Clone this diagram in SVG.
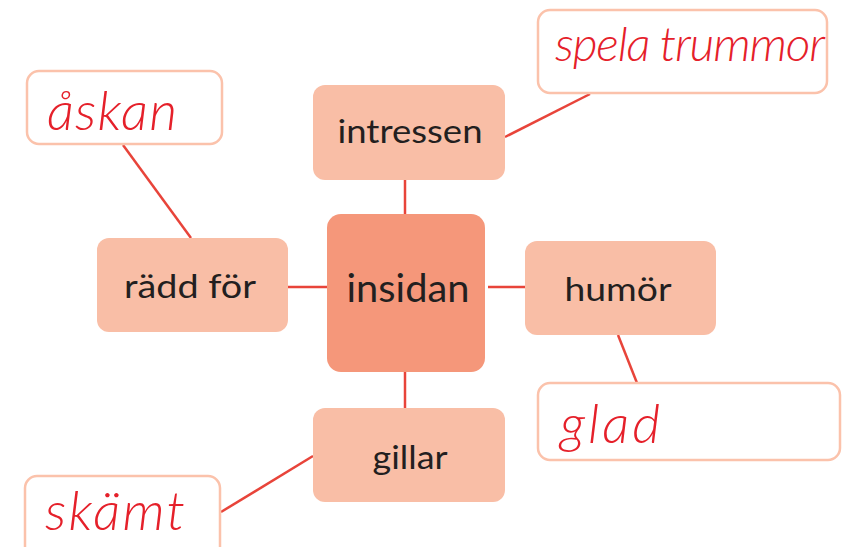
<svg xmlns="http://www.w3.org/2000/svg" width="850" height="547" viewBox="0 0 850 547">
<style>
.sub{fill:#f9bea6}
.main{fill:#f5977a}
.ans{fill:#fff;stroke:#fbc2ab;stroke-width:2.5}
.lbl{font-family:Lato,"Open Sans",sans-serif;fill:#231f20;text-anchor:middle}
.hand{font-family:Lato,"Open Sans",sans-serif;font-style:italic;font-weight:300;fill:#e5202a}
.ln{stroke:#e8443a;stroke-width:2.5;fill:none}
</style>
<rect width="850" height="547" fill="#fff"/>
<g id="connectors">
<line class="ln" x1="405" y1="180" x2="405" y2="214"/>
<line class="ln" x1="405" y1="372" x2="405" y2="408"/>
<line class="ln" x1="288" y1="287" x2="327" y2="287"/>
<line class="ln" x1="488" y1="287" x2="525" y2="287"/>
<line class="ln" x1="123" y1="145" x2="191" y2="238"/>
<line class="ln" x1="590" y1="94" x2="505" y2="137"/>
<line class="ln" x1="618" y1="335" x2="637" y2="383"/>
<line class="ln" x1="221" y1="512" x2="313" y2="456"/>
</g>
<g id="insidan">
<rect class="main" x="327" y="214" width="158" height="158" rx="14"/>
<text class="lbl" x="408" y="302" font-size="39" textLength="123" lengthAdjust="spacingAndGlyphs">insidan</text>
</g>
<g id="intressen">
<rect class="sub" x="313" y="85" width="192" height="95" rx="12"/>
<text class="lbl" x="410" y="143" font-size="33" textLength="145" lengthAdjust="spacingAndGlyphs">intressen</text>
</g>
<g id="radd">
<rect class="sub" x="97" y="238" width="191" height="94" rx="12"/>
<text class="lbl" x="190" y="298" font-size="33" textLength="132" lengthAdjust="spacingAndGlyphs">rädd för</text>
</g>
<g id="humor">
<rect class="sub" x="525" y="241" width="191" height="94" rx="12"/>
<text class="lbl" x="618" y="301" font-size="33" textLength="107" lengthAdjust="spacingAndGlyphs">humör</text>
</g>
<g id="gillar">
<rect class="sub" x="313" y="408" width="192" height="94" rx="12"/>
<text class="lbl" x="410" y="469" font-size="33" textLength="75" lengthAdjust="spacingAndGlyphs">gillar</text>
</g>
<g id="askan">
<rect class="ans" x="27" y="71" width="195" height="73" rx="12"/>
<text class="hand" x="47" y="130" font-size="54" textLength="130" lengthAdjust="spacing">åskan</text>
</g>
<g id="spela">
<rect class="ans" x="538" y="10" width="289" height="83" rx="12"/>
<text class="hand" x="555" y="61" font-size="48" textLength="270" lengthAdjust="spacing">spela trummor</text>
</g>
<g id="glad">
<rect class="ans" x="538" y="383" width="302" height="77" rx="12"/>
<text class="hand" x="560" y="443" font-size="54" textLength="100" lengthAdjust="spacing">glad</text>
</g>
<g id="skamt">
<rect class="ans" x="25" y="476" width="195" height="90" rx="12"/>
<text class="hand" x="45" y="530" font-size="54" textLength="140" lengthAdjust="spacing">skämt</text>
</g>
</svg>
